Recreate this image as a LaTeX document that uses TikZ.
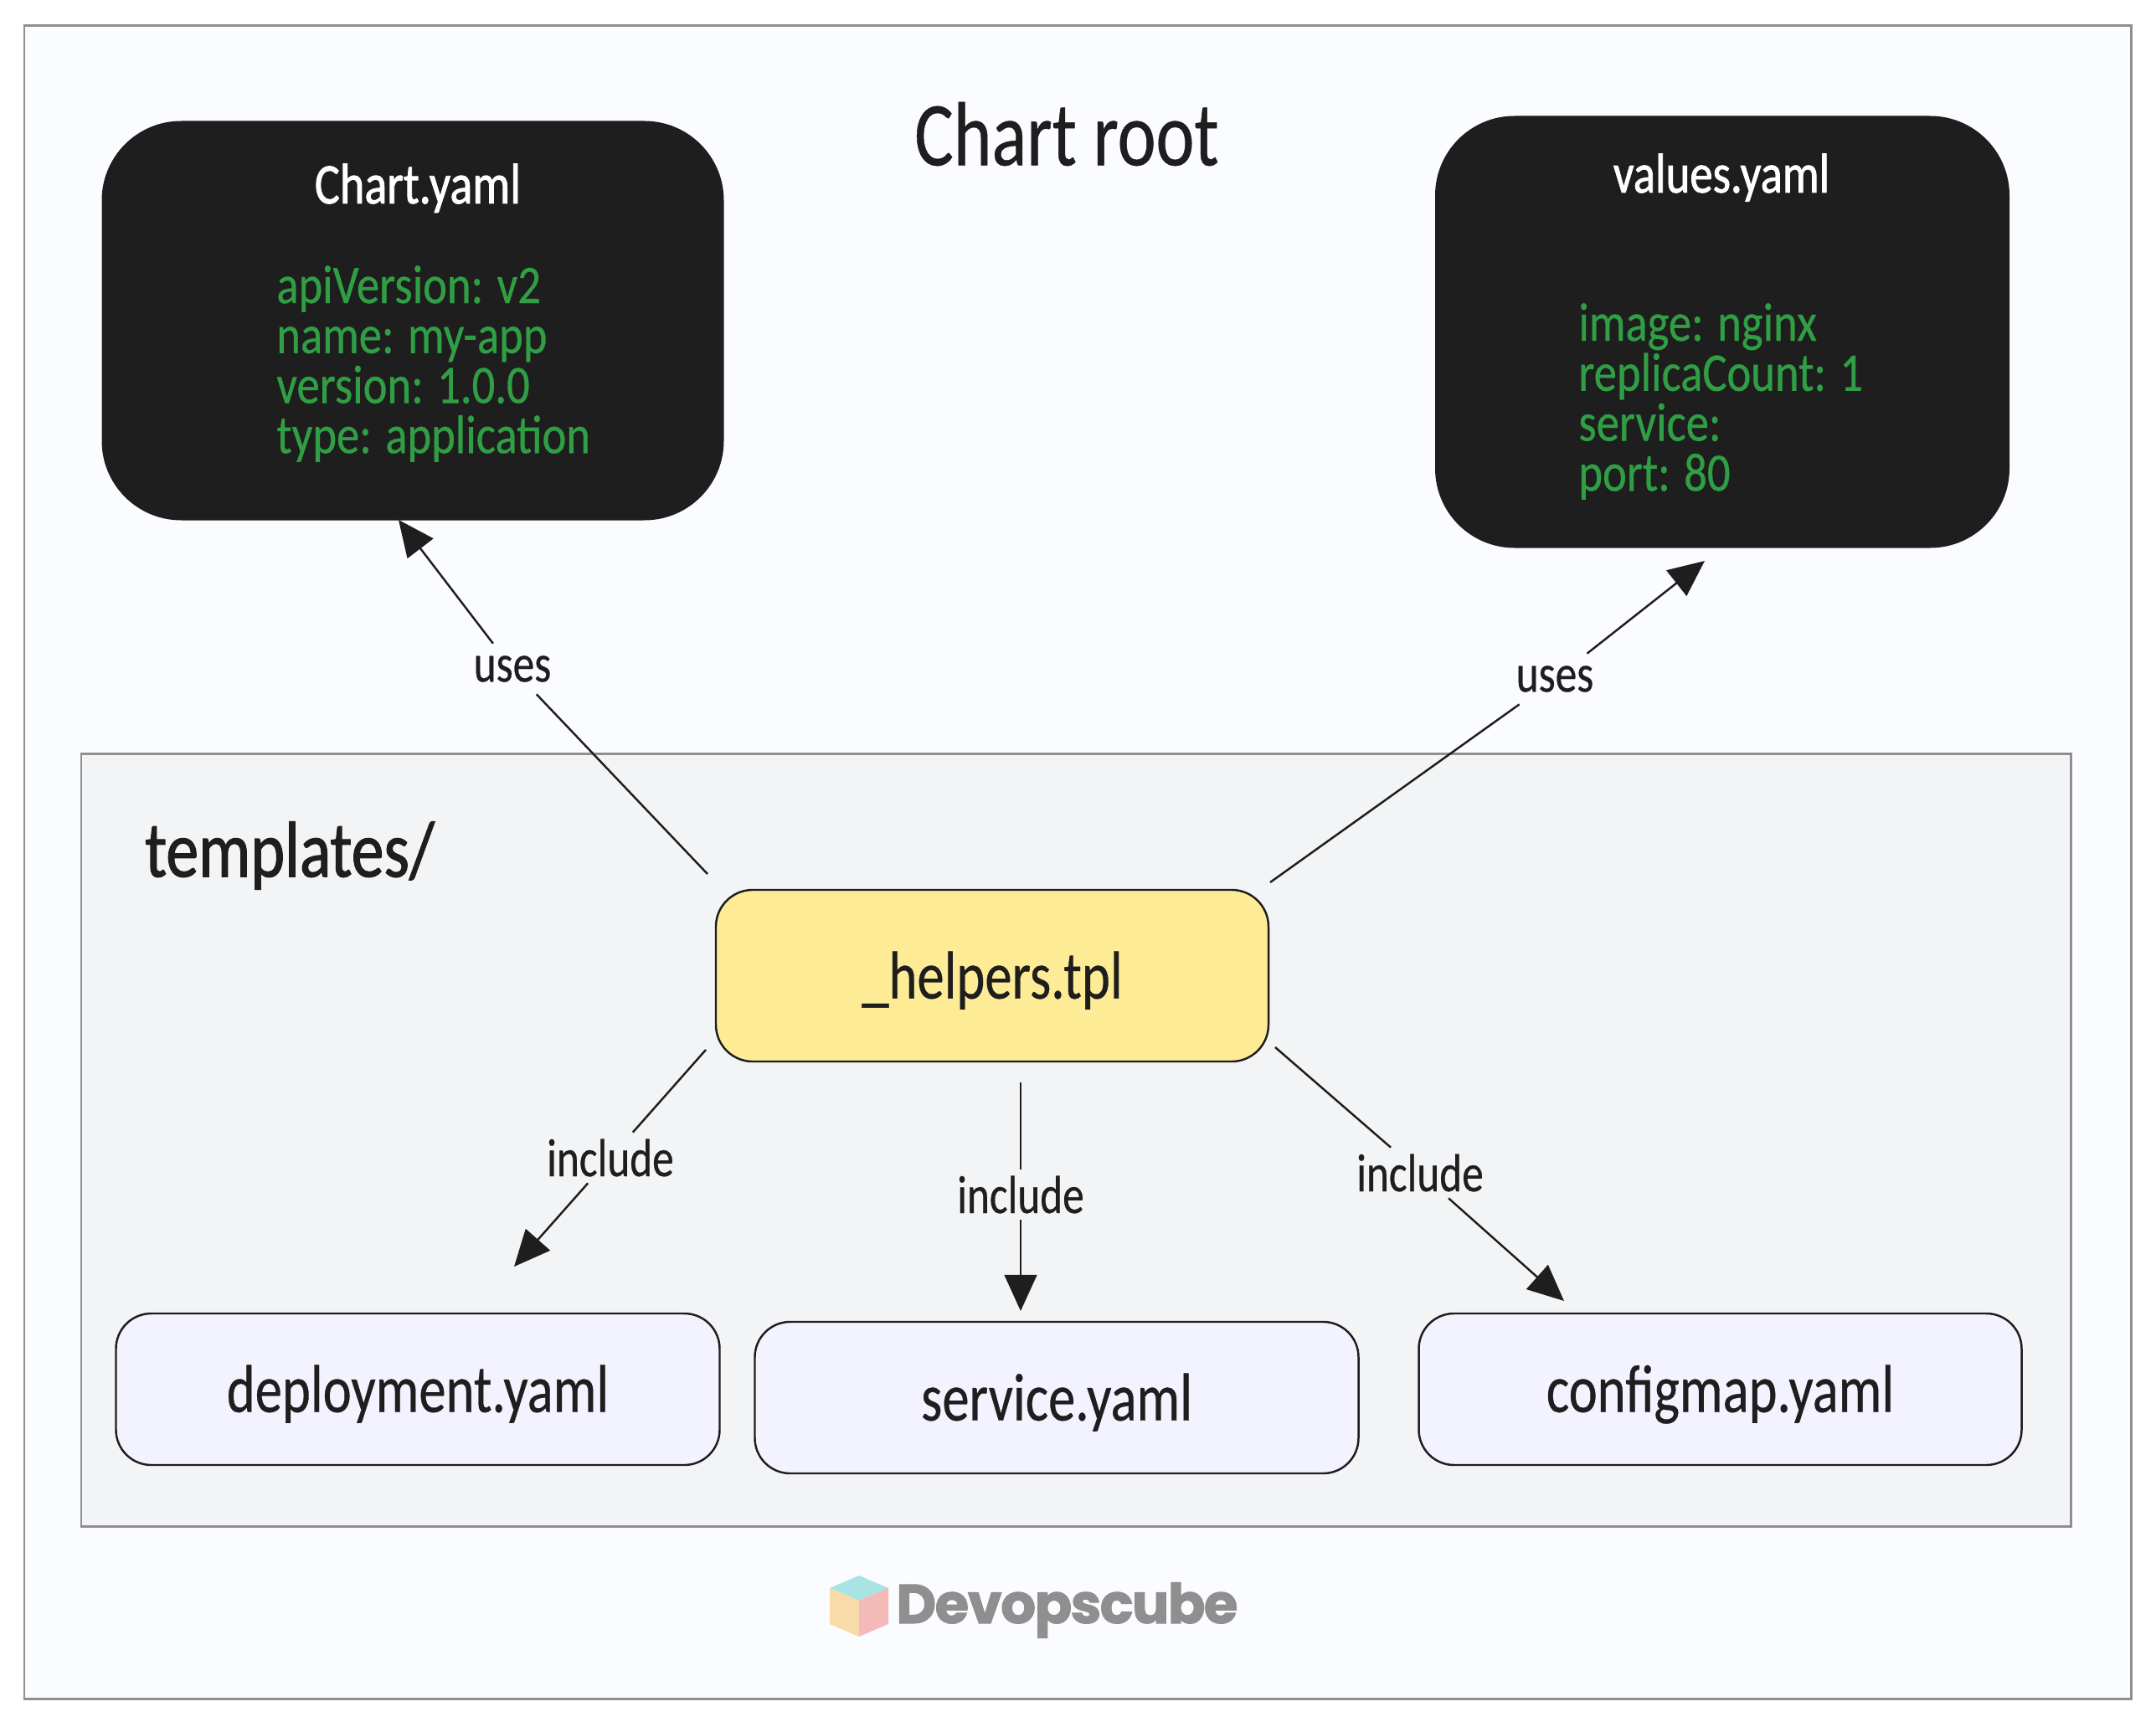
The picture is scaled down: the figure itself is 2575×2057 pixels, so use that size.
\documentclass[tikz,border=0pt]{standalone}
\usepackage{fontspec}
\setmainfont[FakeStretch=0.8,FakeBold=0.4]{Carlito}
\newfontfamily\headfont[FakeStretch=0.82,FakeBold=1.2]{Carlito}
\newfontfamily\codefont[FakeStretch=0.84,FakeBold=0.5]{Carlito}
\newfontfamily\logofont[LetterSpace=-2.5,FakeBold=1.5]{Poppins}
\usetikzlibrary{arrows.meta}
\definecolor{ink}{HTML}{1E1E1E}
\definecolor{pagebg}{HTML}{FBFCFF}
\definecolor{framegrey}{HTML}{8F8F8F}
\definecolor{panel}{HTML}{F3F4F6}
\definecolor{helperfill}{HTML}{FEEB96}
\definecolor{filefill}{HTML}{F3F2FF}
\definecolor{codegreen}{HTML}{2F9E44}
\definecolor{cubetop}{HTML}{A9E3E3}
\definecolor{cubeleft}{HTML}{F8DBA8}
\definecolor{cuberight}{HTML}{F4BAB8}
\newcommand{\fsz}[2]{\fontsize{#1}{#2}\selectfont}
\tikzset{
  box/.style n args={2}{minimum width=#1*0.02cm, minimum height=#2*0.02cm, inner sep=0pt, anchor=center},
  panelbox/.style={draw=framegrey, line width=1.7pt},
  darkbox/.style={fill=ink, rounded corners=54pt},
  filebox/.style={draw=ink, line width=1.4pt, fill=filefill, rounded corners=24pt, text=ink, font=\fsz{46}{56}, text height=41pt, text depth=10pt},
  helperbox/.style={draw=ink, line width=1.4pt, fill=helperfill, rounded corners=25pt, text=ink, font=\fsz{46}{56}, text height=41pt, text depth=10pt},
  edgelabel/.style={text=ink, font=\fsz{36.5}{42}, inner sep=0pt, minimum height=60*0.02cm},
  conn/.style={draw=ink, line width=1.4pt},
  arrowconn/.style={conn, -{Triangle[length=24.5pt,width=22pt]}, shorten >=0pt},
  titlelabel/.style={text=white, font=\headfont\fsz{39}{46}, inner sep=0pt, anchor=base},
  codelabel/.style={text=codegreen, font=\codefont\fsz{37}{34}, inner sep=0pt, align=left, anchor=north west}
}
\begin{document}
\begin{tikzpicture}[x=0.02cm,y=-0.02cm]
\useasboundingbox (0,0) rectangle (2575,2057);
\node[box={2516}{1998}, panelbox, fill=pagebg] (frame) at (1287,1030) {};
\node[text=ink, font=\fsz{62}{72}, inner sep=0pt] (root) at (1274,160) {Chart root};
\node[box={2376}{923}, panelbox, fill=panel] (templates) at (1285,1362) {};
\node[text=ink, font=\headfont\fsz{54}{64}, inner sep=0pt] (tpllabel) at (346,1022) {templates/};

\node[box={743}{477}, darkbox] (chart) at (493,383) {};
\node[titlelabel] (charttitle) at (499,243) {Chart.yaml};
\node[codelabel] (chartbody) at (330,317) {apiVersion: v2\\name: my-app\\version: 1.0.0\\type: application};

\node[box={686}{516}, darkbox] (values) at (2057,396.5) {};
\node[titlelabel, font=\headfont\fsz{38}{44}] (valuestitle) at (2056,230) {values.yaml};
\node[codelabel] (valuesbody) at (1885,362) {image: nginx\\replicaCount: 1\\service:\\port: 80};

\node[box={660}{205}, helperbox] (helpers) at (1185,1165.5) {\_helpers.tpl};
\node[box={721}{181}, filebox] (deployment) at (499,1659.5) {deployment.yaml};
\node[box={721}{181}, filebox] (service) at (1262,1669.5) {service.yaml};
\node[box={720}{181}, filebox] (configmap) at (2054.5,1659.5) {configmap.yaml};

\node[edgelabel, minimum width=115*0.02cm] (uses1) at (612,799) {uses};
\node[edgelabel, minimum width=115*0.02cm] (uses2) at (1857,811) {uses};
\node[edgelabel, minimum width=160*0.02cm] (inc1) at (729,1383) {include};
\node[edgelabel, minimum width=160*0.02cm] (inc2) at (1219,1427) {include};
\node[edgelabel, minimum width=160*0.02cm] (inc3) at (1696,1401) {include};

\coordinate (u1s) at (845,1044);
\coordinate (u1e) at (476,621);
\coordinate (u2s) at (1517,1054);
\coordinate (u2e) at (2036,670);
\coordinate (i1s) at (843,1254);
\coordinate (i1e) at (614,1513);
\coordinate (i2s) at (1219,1293);
\coordinate (i2e) at (1219,1566);
\coordinate (i3s) at (1523,1251);
\coordinate (i3e) at (1868,1554);

\draw[conn] (u1s) -- (uses1);
\draw[arrowconn] (uses1) -- (u1e);
\draw[conn] (u2s) -- (uses2);
\draw[arrowconn] (uses2) -- (u2e);
\draw[conn] (i1s) -- (inc1);
\draw[arrowconn] (inc1) -- (i1e);
\draw[conn] (i2s) -- (inc2);
\draw[arrowconn] (inc2) -- (i2e);
\draw[conn] (i3s) -- (inc3);
\draw[arrowconn] (inc3) -- (i3e);

% logo
\fill[cubetop] (1026,1882) -- (1061,1897) -- (1026,1912) -- (991,1897) -- cycle;
\fill[cubeleft] (991,1897) -- (1026,1912) -- (1026,1955) -- (991,1940) -- cycle;
\fill[cuberight] (1061,1897) -- (1026,1912) -- (1026,1955) -- (1061,1940) -- cycle;
\node[text=framegrey, font=\logofont\bfseries\fsz{37.5}{46}, inner sep=0pt, anchor=base west] (logo) at (1070,1939) {Devopscube};
\end{tikzpicture}
\end{document}
